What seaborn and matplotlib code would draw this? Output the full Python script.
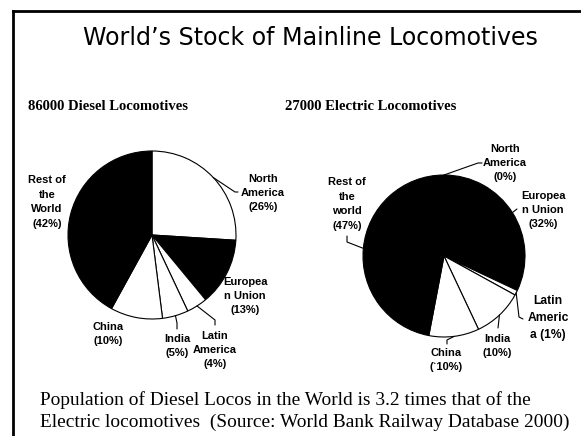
import numpy as np
import matplotlib
matplotlib.use("Agg")
import matplotlib.pyplot as plt
import seaborn as sns

# ---------------- data ----------------
regions = ["North America", "European Union", "Latin America", "India", "China", "Rest of the World"]
diesel_share = [26, 13, 4, 5, 10, 42]
electric_share = [0, 32, 1, 10, 10, 47]
diesel_labels = ["North\nAmerica\n(26%)", "Europea\nn Union\n(13%)", "Latin\nAmerica\n(4%)",
                 "India\n(5%)", "China\n(10%)", "Rest of\nthe\nWorld\n(42%)"]
electric_labels = ["North\nAmerica\n(0%)", "Europea\nn Union\n(32%)", "Latin\nAmeric\na (1%)",
                   "India\n(10%)", "China\n(`10%)", "Rest of\nthe\nworld\n(47%)"]
slice_colors = ["white", "black", "white", "white", "white", "black"]
diesel_total = "86000 Diesel Locomotives"
electric_total = "27000 Electric Locomotives"
title = "World\u2019s Stock of Mainline Locomotives"
note_lines = ["Population of Diesel Locos in the World is 3.2 times that of the",
              "Electric locomotives  (Source: World Bank Railway Database 2000)"]

# ---------------- layout (pixels, y downward) ----------------
W, H = 581, 436
sns.set_theme(style="white")
plt.rcParams["font.family"] = ["DejaVu Sans"]
plt.rcParams["text.color"] = "black"

fig = plt.figure(figsize=(W / 100, H / 100), dpi=100)
ax = fig.add_axes([0, 0, 1, 1])

def Y(y):
    return H - y

pies = [
    dict(share=diesel_share, labels=diesel_labels, c=(152, 235), r=84,
         text=[(263, 193), (245, 296), (215, 350), (177, 346), (108, 334), (47, 202)],
         leads=[[(235, 192), (238, 192)], None, [(215, 320), (215, 325)],
                [(177, 323), (177, 329)], None, None],
         sizes=[8, 8, 8, 8, 8, 8]),
    dict(share=electric_share, labels=electric_labels, c=(444, 256), r=81,
         text=[(505, 163), (543, 210), (548, 318), (497, 346), (446, 360), (347, 204)],
         leads=[[(478, 163), (482, 163)], [(517, 209)], [(519, 317), (523, 319)],
                [(498, 328)], [(447, 340), (447, 344)], [(347, 242), (347, 236)]],
         sizes=[8, 8, 8.7, 8, 8, 8]),
]

for p in pies:
    cx, cy = p["c"]
    ax.pie(p["share"], colors=slice_colors, startangle=90, counterclock=False,
           center=(cx, Y(cy)), radius=p["r"],
           wedgeprops=dict(edgecolor="black", linewidth=0.8))
    fr = np.array(p["share"], dtype=float) / np.sum(p["share"])
    cum = np.concatenate([[0], np.cumsum(fr)])
    for i, lab in enumerate(p["labels"]):
        mid = np.deg2rad(90 - 360 * (cum[i] + cum[i + 1]) / 2)
        sx, sy = cx + p["r"] * np.cos(mid), cy - p["r"] * np.sin(mid)
        if p["leads"][i] is not None:
            pts = [(sx, sy)] + p["leads"][i]
            ax.plot([q[0] for q in pts], [Y(q[1]) for q in pts], color="black", lw=0.8)
        tx, ty = p["text"][i]
        ax.text(tx, Y(ty), lab, ha="center", va="center", multialignment="center",
                fontsize=p["sizes"][i], fontweight="bold", family="Liberation Sans",
                linespacing=1.55, color="black")

# frame
ax.plot([13, 13], [Y(11), Y(H + 5)], color="black", lw=2, solid_capstyle="projecting")
ax.plot([13, W + 5], [Y(11), Y(11)], color="black", lw=2, solid_capstyle="projecting")

renderer = fig.canvas.get_renderer()

def fit(t, target):
    w = t.get_window_extent(renderer).width
    t.set_fontsize(t.get_fontsize() * target / w)

t = ax.text(310, Y(38), title, ha="center", va="center", fontsize=20,
            family="DejaVu Sans", color="black")
fit(t, 455)

ax.text(28, Y(107), diesel_total, ha="left", va="center", fontsize=10.5,
        family="Liberation Serif", fontweight="bold", color="black")
ax.text(285, Y(107), electric_total, ha="left", va="center", fontsize=10.5,
        family="Liberation Serif", fontweight="bold", color="black")

n1 = ax.text(40, Y(405), note_lines[0], ha="left", va="baseline", fontsize=13,
             family="Liberation Serif", color="black")
n2 = ax.text(40, Y(427), note_lines[1], ha="left", va="baseline", fontsize=13,
             family="Liberation Serif", color="black")
fit(n2, 527)
n1.set_fontsize(n2.get_fontsize())

ax.set_xlim(0, W)
ax.set_ylim(0, H)
ax.set_aspect("equal", adjustable="box")
ax.axis("off")
fig.savefig("out.png", dpi=100, facecolor="white")
